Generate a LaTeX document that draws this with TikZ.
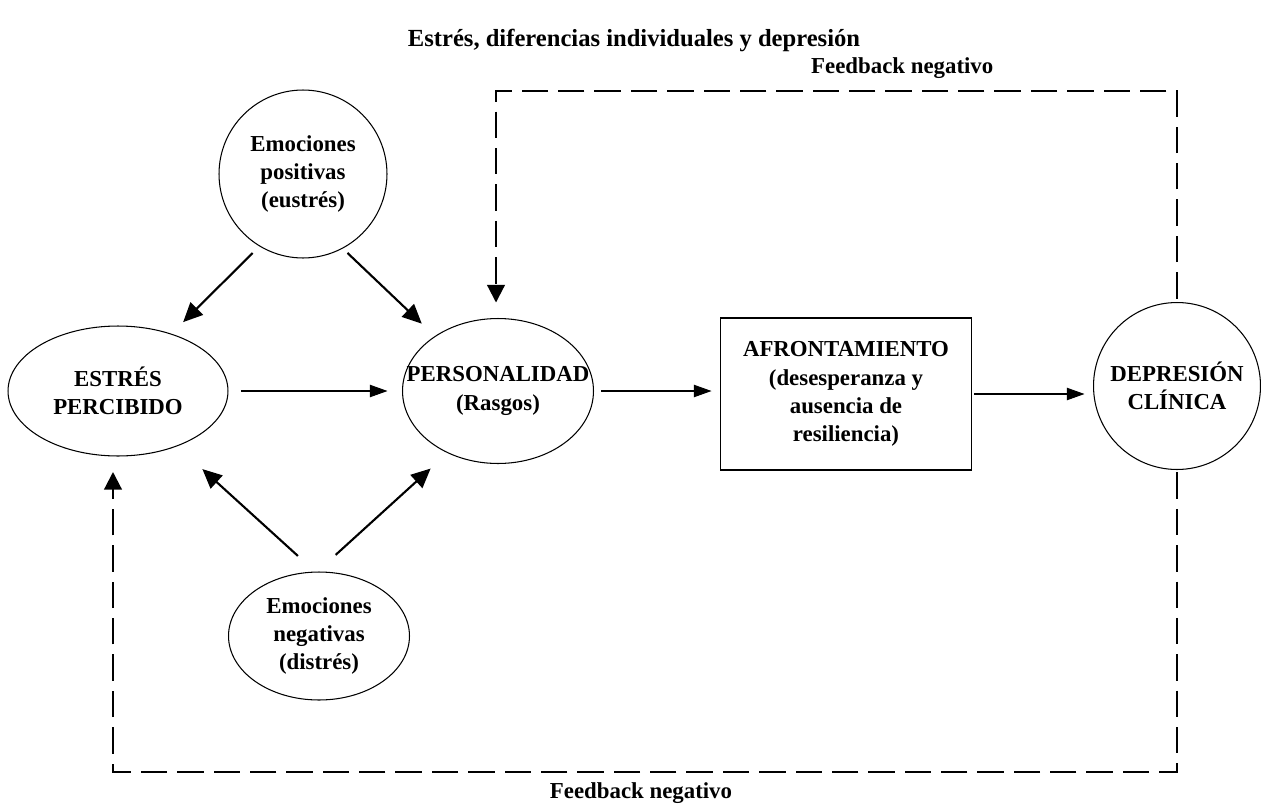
\documentclass[tikz,border=0pt]{standalone}
\usepackage{fontspec}
\setmainfont{Liberation Serif}
\usepackage{tikz}
\usetikzlibrary{shapes.geometric, arrows.meta, positioning, calc}
\newcommand{\txtfont}{\fontsize{13}{16}\selectfont\bfseries}
\tikzset{
  oval/.style={ellipse, draw, line width=0.6pt, inner sep=-20pt, outer sep=0pt,
    align=center, font=\txtfont},
  ring/.style={circle, draw, line width=0.6pt, inner sep=-20pt, outer sep=0pt,
    align=center, font=\txtfont},
  block/.style={rectangle, draw, line width=0.6pt, outer sep=0pt,
    minimum width=5.02cm, minimum height=3.04cm, align=center, font=\txtfont},
  arrow/.style={-{Triangle[length=10pt, width=7pt]}, line width=0.6pt},
  bigarrow/.style={-{Triangle[length=11pt, width=10pt]}, line width=1.2pt},
  fback/.style={dash pattern=on 15pt off 5.7pt, line width=1.2pt,
    -{Triangle[length=10pt, width=10pt]}}
}

\begin{document}
\begin{tikzpicture}[x=0.02cm, y=-0.02cm, every node/.style={font=\txtfont}]
    \useasboundingbox (0,0) rectangle (1261,805);

    % Title
    \node[font=\fontsize{14}{17}\selectfont\bfseries] (titulo) at (634,40) {Estrés, diferencias individuales y depresión};

    % Middle row
    \node[oval, minimum width=4.4cm, minimum height=2.6cm] (estres) at (118,391) {ESTRÉS\\PERCIBIDO};
    \node[oval, minimum width=3.82cm, minimum height=2.9cm] (pers) at (498,391) {PERSONALIDAD\\(Rasgos)};
    \node[block] (afront) at (846,394) {AFRONTAMIENTO\\(desesperanza y\\ausencia de\\resiliencia)};
    \node[ring, minimum size=3.34cm] (dep) at (1177,386) {DEPRESIÓN\\CLÍNICA};

    % Emotions
    \node[ring, minimum size=3.36cm] (pos) at (303,174) {Emociones\\positivas\\(eustrés)};
    \node[oval, minimum width=3.62cm, minimum height=2.56cm] (neg) at (319,636) {Emociones\\negativas\\(distrés)};

    \draw[bigarrow, shorten <=0.2cm, shorten >=0.34cm] (pos.239) -- (estres.47);
    \draw[bigarrow, shorten <=0.14cm, shorten >=0.37cm] (pos.298) -- (pers.139);
    \draw[bigarrow, shorten <=0.48cm, shorten >=0.69cm] (neg.93) -- (estres.317);
    \draw[bigarrow, shorten <=0.51cm, shorten >=0.47cm] (neg.92) -- (pers.231);

    \draw[arrow, shorten <=0.26cm, shorten >=0.3cm] (estres.east) -- (pers.west);
    \draw[arrow, shorten <=0.16cm, shorten >=0.18cm] (pers.east) -- (pers.east -| afront.west);
    \draw[arrow, shorten <=0.06cm, shorten >=0.18cm] (afront.east) -- (afront.east -| dep.west);

    % Feedback loops
    \coordinate (esqsup) at (496,91);
    \coordinate (esqinf) at (113,772);
    \node[anchor=west] (fbsup) at (805,68) {Feedback negativo};
    \node (fbinf) at (641,793) {Feedback negativo};

    \draw[fback, shorten <=0.08cm, shorten >=0.32cm] (dep.north) -- (dep.north |- esqsup) -- (esqsup) -- (esqsup |- pers.north);
    \draw[fback, shorten <=0.06cm, shorten >=0.32cm] (dep.south) -- (dep.south |- esqinf) -- (esqinf) -- (esqinf |- estres.south);
  \end{tikzpicture}
\end{document}
